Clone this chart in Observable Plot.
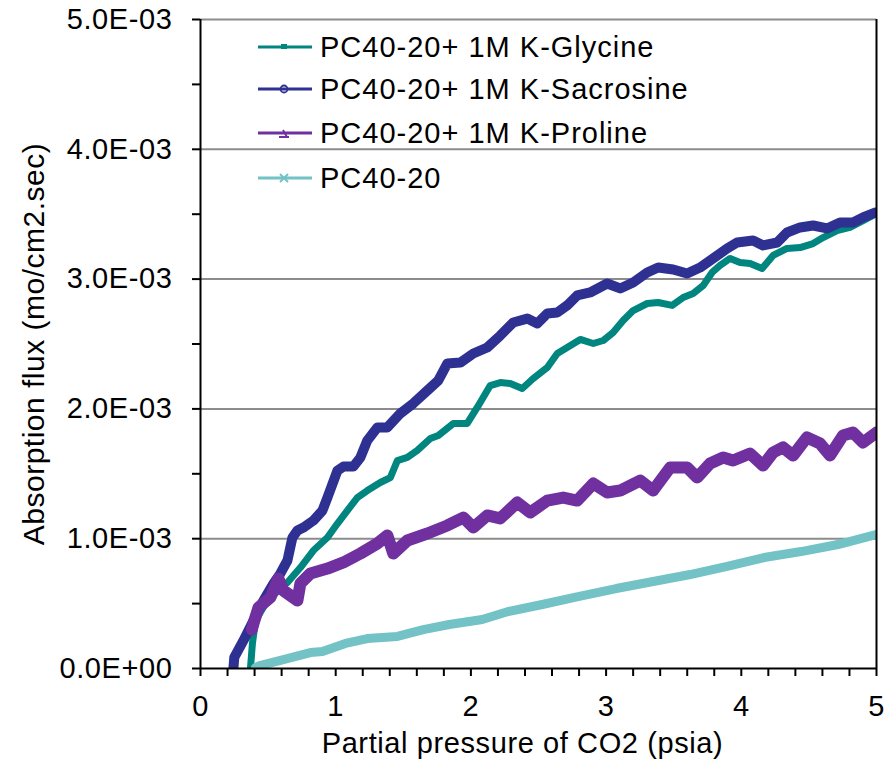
<!DOCTYPE html>
<html>
<head>
<meta charset="utf-8">
<script src="https://cdn.jsdelivr.net/npm/d3@7"></script>
<script src="https://cdn.jsdelivr.net/npm/@observablehq/plot@0.6"></script>
<style>
  html, body { margin: 0; padding: 0; background: #fff; }
  #wrap { position: relative; width: 895px; height: 762px; font-family: "Liberation Sans", Arial, sans-serif; }
  #wrap svg text { font-size: 29px; letter-spacing: 0.6px; fill: #000; }
  #wrap svg .ylab text { font-size: 30px; letter-spacing: 0.5px; }
  #legend { position: absolute; left: 0; top: 0; }
  .lg { position: absolute; left: 258px; height: 30px; display: flex; align-items: center; font-size: 29px; letter-spacing: 1px; color: #000; white-space: nowrap; }
  .lg svg { margin-right: 8px; flex: none; }
</style>
</head>
<body>
<div id="wrap"></div>
<script>
// ---- data (x: partial pressure of CO2, psia; y: absorption flux, mo/cm2.sec) ----
const seriesNames = ["PC40-20+ 1M K-Glycine", "PC40-20+ 1M K-Sacrosine", "PC40-20+ 1M K-Proline", "PC40-20"];
const seriesColors = ["#00857F", "#2E3192", "#7030A0", "#72C2C6"];

const glycineX = [0.370,0.384,0.407,0.495,0.643,0.739,0.835,0.939,1.013,1.086,1.160,1.234,1.330,1.404,1.456,1.530,1.604,1.700,1.759,1.870,1.973,2.047,2.143,2.217,2.291,2.380,2.461,2.565,2.639,2.712,2.809,2.905,2.979,3.052,3.126,3.200,3.304,3.385,3.489,3.570,3.644,3.718,3.784,3.843,3.917,3.991,4.065,4.154,4.235,4.338,4.435,4.531,4.605,4.708,4.804,4.900,4.974];
const glycineY = [0.008e-3,0.193e-3,0.370e-3,0.524e-3,0.663e-3,0.778e-3,0.909e-3,1.009e-3,1.117e-3,1.217e-3,1.317e-3,1.371e-3,1.433e-3,1.471e-3,1.602e-3,1.626e-3,1.680e-3,1.772e-3,1.795e-3,1.888e-3,1.888e-3,2.011e-3,2.180e-3,2.203e-3,2.196e-3,2.157e-3,2.234e-3,2.319e-3,2.427e-3,2.473e-3,2.535e-3,2.504e-3,2.527e-3,2.589e-3,2.681e-3,2.758e-3,2.812e-3,2.820e-3,2.797e-3,2.858e-3,2.889e-3,2.951e-3,3.051e-3,3.105e-3,3.159e-3,3.128e-3,3.120e-3,3.082e-3,3.182e-3,3.236e-3,3.243e-3,3.274e-3,3.320e-3,3.374e-3,3.398e-3,3.451e-3,3.490e-3];

const sacrosineX = [0.244,0.250,0.318,0.392,0.466,0.540,0.591,0.643,0.680,0.717,0.761,0.835,0.902,0.939,1.013,1.057,1.131,1.183,1.234,1.308,1.382,1.478,1.574,1.678,1.759,1.826,1.922,2.018,2.121,2.217,2.313,2.417,2.491,2.565,2.639,2.712,2.786,2.882,3.008,3.104,3.200,3.304,3.385,3.496,3.599,3.695,3.792,3.895,3.969,4.087,4.161,4.265,4.338,4.435,4.531,4.634,4.730,4.826,4.900,4.989];
const sacrosineY = [0.008e-3,0.085e-3,0.216e-3,0.370e-3,0.524e-3,0.655e-3,0.732e-3,0.832e-3,1.009e-3,1.063e-3,1.086e-3,1.140e-3,1.217e-3,1.317e-3,1.525e-3,1.556e-3,1.556e-3,1.626e-3,1.757e-3,1.857e-3,1.857e-3,1.965e-3,2.042e-3,2.142e-3,2.219e-3,2.350e-3,2.357e-3,2.427e-3,2.473e-3,2.565e-3,2.666e-3,2.696e-3,2.658e-3,2.735e-3,2.743e-3,2.797e-3,2.874e-3,2.897e-3,2.966e-3,2.928e-3,2.974e-3,3.051e-3,3.089e-3,3.074e-3,3.043e-3,3.089e-3,3.159e-3,3.236e-3,3.282e-3,3.297e-3,3.259e-3,3.282e-3,3.359e-3,3.398e-3,3.413e-3,3.390e-3,3.436e-3,3.436e-3,3.475e-3,3.513e-3];

const prolineX = [0.380,0.392,0.429,0.517,0.576,0.613,0.717,0.739,0.813,0.939,1.057,1.183,1.308,1.382,1.426,1.530,1.678,1.826,1.944,2.018,2.121,2.217,2.343,2.439,2.565,2.683,2.786,2.905,3.008,3.104,3.252,3.348,3.474,3.599,3.673,3.769,3.866,3.939,4.065,4.161,4.235,4.309,4.383,4.486,4.583,4.656,4.752,4.826,4.900,5.000];
const prolineY = [0.300e-3,0.347e-3,0.470e-3,0.547e-3,0.693e-3,0.601e-3,0.524e-3,0.655e-3,0.732e-3,0.770e-3,0.817e-3,0.886e-3,0.963e-3,1.025e-3,0.886e-3,0.986e-3,1.040e-3,1.102e-3,1.163e-3,1.086e-3,1.179e-3,1.156e-3,1.279e-3,1.202e-3,1.294e-3,1.317e-3,1.294e-3,1.425e-3,1.356e-3,1.371e-3,1.448e-3,1.371e-3,1.549e-3,1.549e-3,1.471e-3,1.579e-3,1.626e-3,1.602e-3,1.656e-3,1.564e-3,1.664e-3,1.703e-3,1.641e-3,1.780e-3,1.733e-3,1.641e-3,1.795e-3,1.818e-3,1.741e-3,1.818e-3];

const pcX = [0.407,0.430,0.591,0.813,0.902,1.072,1.234,1.456,1.648,1.840,2.084,2.276,2.528,2.801,3.075,3.348,3.622,3.895,4.168,4.442,4.715,4.996];
const pcY = [0.008e-3,0.020e-3,0.062e-3,0.123e-3,0.131e-3,0.193e-3,0.231e-3,0.247e-3,0.300e-3,0.339e-3,0.378e-3,0.439e-3,0.493e-3,0.555e-3,0.616e-3,0.670e-3,0.724e-3,0.786e-3,0.855e-3,0.901e-3,0.955e-3,1.032e-3];

// ---- axes ----
const xTicks = [0, 1, 2, 3, 4, 5];
const xMinorTicks = [0.2,0.4,0.6,0.8,1.2,1.4,1.6,1.8,2.2,2.4,2.6,2.8,3.2,3.4,3.6,3.8,4.2,4.4,4.6,4.8];
const yTicks = [0, 0.001, 0.002, 0.003, 0.004, 0.005];
const yTickLabels = ["0.0E+00", "1.0E-03", "2.0E-03", "3.0E-03", "4.0E-03", "5.0E-03"];
const yMinorTicks = [0.0005, 0.0015, 0.0025, 0.0035, 0.0045];
const yGrid = [0.001, 0.002, 0.003, 0.004, 0.005];
const xLabel = "Partial pressure of CO2 (psia)";
const yLabel = "Absorption flux (mo/cm2.sec)";

const toRows = (xs, ys) => xs.map((x, i) => ({x, y: ys[i]}));
const series = [toRows(glycineX, glycineY), toRows(sacrosineX, sacrosineY), toRows(prolineX, prolineY), toRows(pcX, pcY)];
const widths = [7, 10, 12, 9];

const lineMarks = series.map((rows, i) =>
  Plot.line(rows, {x: "x", y: "y", stroke: seriesColors[i], strokeWidth: widths[i], strokeLinejoin: "round", strokeLinecap: "round", clip: true})
);

const chart = Plot.plot({
  width: 895,
  height: 762,
  marginLeft: 200,
  marginRight: 19,
  marginTop: 19,
  marginBottom: 94,
  style: {fontFamily: "'Liberation Sans', Arial, sans-serif", fontSize: "29px", background: "white", color: "black"},
  x: {domain: [0, 5]},
  y: {domain: [0, 0.005]},
  marks: [
    Plot.ruleY(yGrid, {stroke: "#8c8c8c", strokeWidth: 2}),
    ...lineMarks,
    Plot.ruleX([0], {stroke: "black", strokeWidth: 2}),
    Plot.ruleX([5], {stroke: "black", strokeWidth: 2}),
    Plot.ruleY([0], {stroke: "black", strokeWidth: 2}),
    Plot.axisY({ticks: yTicks, tickFormat: d => yTickLabels[yTicks.indexOf(d)], tickSize: 8, tickPadding: 20, strokeWidth: 2, label: null}),
    Plot.axisY({ticks: yMinorTicks, tickFormat: () => "", tickSize: 8, strokeWidth: 2, label: null}),
    Plot.axisX({ticks: xTicks, tickFormat: d => String(d), tickSize: 8, tickPadding: 19, strokeWidth: 2, label: null}),
    Plot.axisX({ticks: xMinorTicks, tickFormat: () => "", tickSize: 8, strokeWidth: 2, label: null}),
    Plot.text([yLabel], {frameAnchor: "left", dx: -166, rotate: -90, text: d => d, fill: "black", textAnchor: "middle", lineAnchor: "middle", className: "ylab"}),
    Plot.text([xLabel], {frameAnchor: "bottom", dx: -16, dy: 75, text: d => d, fill: "black", textAnchor: "middle", lineAnchor: "middle"})
  ]
});

const wrap = document.getElementById("wrap");
wrap.appendChild(chart);

// ---- legend ----
const legendY = [47, 89, 133, 178];
const markerSvg = [
  c => `<rect x="23" y="12" width="6" height="5" fill="${c}"/>`,
  c => `<circle cx="26" cy="15" r="3.5" fill="none" stroke="${c}" stroke-width="1.8"/>`,
  c => `<path d="M21 19 L31 19 M29 19 L25 12" fill="none" stroke="${c}" stroke-width="1.8"/>`,
  c => `<path d="M22 11 L30 19 M30 11 L22 19" fill="none" stroke="${c}" stroke-width="2"/>`
];
const legend = document.createElement("div");
legend.id = "legend";
seriesNames.forEach((name, i) => {
  const row = document.createElement("div");
  row.className = "lg";
  row.style.top = (legendY[i] - 15) + "px";
  row.innerHTML = `<svg width="54" height="30"><line x1="0" y1="15" x2="54" y2="15" stroke="${seriesColors[i]}" stroke-width="3"/>${markerSvg[i](seriesColors[i])}</svg><span>${name}</span>`;
  legend.appendChild(row);
});
wrap.appendChild(legend);
</script>
</body>
</html>
